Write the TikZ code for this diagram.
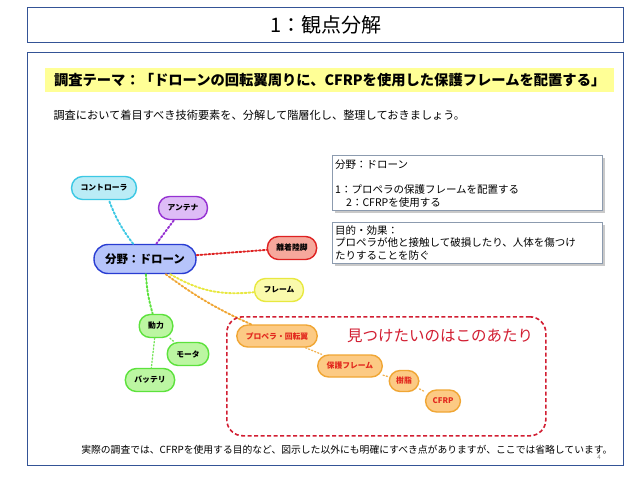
\documentclass[tikz,border=0pt]{standalone}
\usepackage{fontspec}
\setmainfont{Noto Sans CJK JP}
\usepackage{xcolor}
\usetikzlibrary{positioning, shadows}

\definecolor{frameblue}{RGB}{52,84,150}
\definecolor{themeyellow}{RGB}{255,255,150}
\definecolor{hubblue}{RGB}{40,60,210}
\definecolor{hubfill}{RGB}{182,196,250}
\definecolor{ctrlcyan}{RGB}{60,200,228}
\definecolor{ctrlfill}{RGB}{186,236,246}
\definecolor{antpurple}{RGB}{150,50,210}
\definecolor{antfill}{RGB}{222,188,246}
\definecolor{gearred}{RGB}{222,34,34}
\definecolor{gearfill}{RGB}{246,168,156}
\definecolor{frmyellow}{RGB}{232,232,64}
\definecolor{frmfill}{RGB}{250,250,172}
\definecolor{powgreen}{RGB}{92,226,60}
\definecolor{powfill}{RGB}{188,246,162}
\definecolor{proporange}{RGB}{240,166,52}
\definecolor{propfill}{RGB}{252,202,132}
\definecolor{propred}{RGB}{226,40,30}
\definecolor{focusred}{RGB}{210,30,50}
\definecolor{notegray}{RGB}{140,155,175}

\begin{document}
\begin{tikzpicture}[
  x=1pt, y=-1pt,
  frame/.style={draw=frameblue, line width=1.1pt},
  bud/.style 2 args={draw=#1, fill=#2, line width=1.4pt, rounded corners=11pt,
    minimum height=23pt, inner xsep=9pt, font=\bfseries\fontsize{7.8}{9}\selectfont},
  twig/.style={dotted, line width=1.9pt, line cap=round},
  subtwig/.style={dotted, line width=1.3pt, line cap=round},
  note/.style={draw=notegray, fill=white, line width=0.6pt, anchor=north west,
    inner sep=0pt, drop shadow={shadow xshift=2.5pt, shadow yshift=-2.5pt,
    fill=black!35, opacity=0.6}},
  notetext/.style={anchor=north west, align=left, inner sep=0pt,
    font=\fontsize{10.5}{12.5}\selectfont}
]
  \useasboundingbox (0,0) rectangle (640,480);
  \fill[white] (0,0) rectangle (640,480);

  % title and frame
  \node[frame, minimum width=596pt, minimum height=35pt, anchor=north west,
        font=\fontsize{20}{24}\selectfont] (title) at (27,7) {1：観点分解};
  \node[frame, minimum width=596pt, minimum height=413pt, anchor=north west]
        (panel) at (27,52) {};

  \node[fill=themeyellow, minimum width=569pt, minimum height=24pt,
        anchor=north west, font=\bfseries\fontsize{14.3}{16}\selectfont]
        (theme) at (45,68)
        {調査テーマ：「ドローンの回転翼周りに、CFRPを使用した保護フレームを配置する」};
  \node[anchor=west, font=\fontsize{11.2}{12}\selectfont] (lead) at (50,115)
        {調査において着目すべき技術要素を、分解して階層化し、整理しておきましょう。};

  % mind map
  \node[bud={hubblue}{hubfill}, minimum height=29pt, rounded corners=14pt,
        inner xsep=11pt, font=\bfseries\fontsize{11.5}{13}\selectfont]
        (hub) at (145,259) {分野：ドローン};
  \node[bud={ctrlcyan}{ctrlfill}]   (ctrl)  at (104,188) {コントローラ};
  \node[bud={antpurple}{antfill}]   (ant)   at (183,208) {アンテナ};
  \node[bud={gearred}{gearfill}]    (gear)  at (292,248) {離着陸脚};
  \node[bud={frmyellow}{frmfill}]   (frm)   at (279,290) {フレーム};
  \node[bud={powgreen}{powfill}]    (pow)   at (156,326) {動力};
  \node[bud={powgreen}{powfill}]    (mot)   at (188,354) {モータ};
  \node[bud={powgreen}{powfill}]    (bat)   at (150,380) {バッテリ};

  \node[bud={proporange}{propfill}, text=propred, minimum height=22pt]
        (prop)  at (277,336) {プロペラ・回転翼};
  \node[bud={proporange}{propfill}, text=propred, minimum height=22pt]
        (guard) at (350,366) {保護フレーム};
  \node[bud={proporange}{propfill}, text=propred, minimum height=21pt,
        inner xsep=7pt] (resin) at (404,381) {樹脂};
  \node[bud={proporange}{propfill}, text=propred, minimum height=22pt,
        inner xsep=7pt] (cfrp)  at (443,401) {CFRP};

  \draw[twig, ctrlcyan]  (hub) to[bend left=8] (ctrl);
  \draw[twig, antpurple] (hub) -- (ant);
  \draw[twig, gearred]   (hub) -- (gear);
  \draw[twig, frmyellow] (hub) to[bend right=18] (frm);
  \draw[twig, proporange] (hub) to[bend right=6] (prop);
  \draw[twig, powgreen]  (hub) to[bend right=6] (pow);
  \draw[subtwig, powgreen!85]  (pow) -- (mot);
  \draw[subtwig, powgreen!85]  (pow) -- (bat);
  \draw[subtwig, proporange!85] (prop) -- (guard);
  \draw[subtwig, proporange!85] (guard) -- (resin);
  \draw[subtwig, proporange!85] (resin) -- (cfrp);

  % area of interest
  \node[draw=focusred, line width=1.6pt, dash pattern=on 4pt off 2.5pt,
        rounded corners=16pt, minimum width=319pt, minimum height=119pt,
        anchor=north west] (focus) at (226,316) {};
  \node[text=focusred, font=\fontsize{15.5}{18}\selectfont] (hint) at (440,336)
        {見つけたいのはこのあたり};

  % notes
  \node[note, minimum width=270pt, minimum height=55pt] (field) at (332,155) {};
  \node[notetext] (fieldtxt) at (335,160)
        {分野：ドローン\\[12.5pt]1：プロペラの保護フレームを配置する\\
         \hspace*{11pt}2：CFRPを使用する};
  \node[note, minimum width=270pt, minimum height=41pt] (goal) at (332,222) {};
  \node[notetext] (goaltxt) at (335,225)
        {目的・効果：\\プロペラが他と接触して破損したり、人体を傷つけ\\たりすることを防ぐ};

  \node[anchor=east, font=\fontsize{9.8}{12}\selectfont] (foot) at (616,450)
        {実際の調査では、CFRPを使用する目的など、図示した以外にも明確にすべき点がありますが、ここでは省略しています。};
  \node[font=\fontsize{6}{7}\selectfont, text=gray] (pageno) at (599,457) {4};
\end{tikzpicture}
\end{document}
